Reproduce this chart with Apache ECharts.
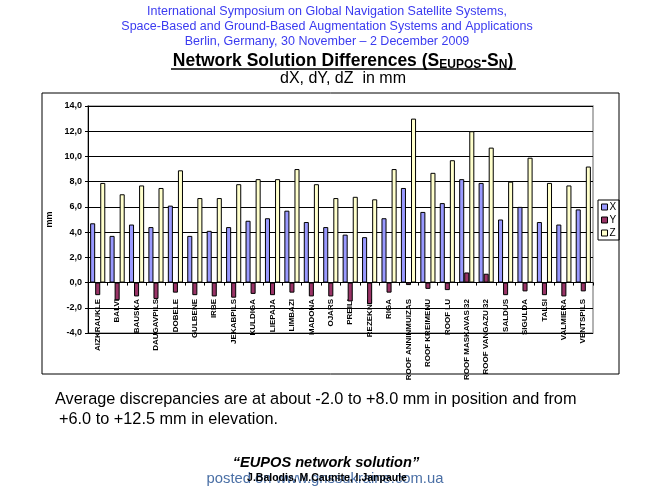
<!DOCTYPE html>
<html>
<head>
<meta charset="utf-8">
<script src="https://cdn.jsdelivr.net/npm/echarts@6/dist/echarts.min.js"></script>
<style>
  html, body { margin: 0; padding: 0; background: #fff; }
  #main { width: 650px; height: 488px; }
</style>
</head>
<body>
<div id="main"></div>
<script>
// stations (categories)
var stations = ['AIZKRAUKLE', 'BALVI', 'BAUSKA', 'DAUGAVPILS', 'DOBELE', 'GULBENE', 'IRBE',
  'JEKABPILS', 'KULDIGA', 'LIEPAJA', 'LIMBAZI', 'MADONA', 'OJARS', 'PREILI', 'REZEKNE', 'RIGA',
  'ROOF ANNINMUIZAS', 'ROOF KREIMENU', 'ROOF LU', 'ROOF MASKAVAS 32', 'ROOF VANGAZU 32',
  'SALDUS', 'SIGULDA', 'TALSI', 'VALMIERA', 'VENTSPILS'];

// differences in mm
var dX = [4.7, 3.7, 4.6, 4.4, 6.1, 3.7, 4.1, 4.4, 4.9, 5.1, 5.7, 4.8, 4.4, 3.8, 3.6, 5.1,
  7.5, 5.6, 6.3, 8.2, 7.9, 5.0, 6.0, 4.8, 4.6, 5.8];
var dY = [-1.0, -1.4, -1.1, -1.3, -0.8, -1.0, -1.1, -1.2, -0.9, -1.0, -0.8, -1.1, -1.1, -1.5, -1.7, -0.8,
  -0.2, -0.5, -0.6, 0.8, 0.7, -1.0, -0.7, -1.0, -1.1, -0.7];
var dZ = [7.9, 7.0, 7.7, 7.5, 8.9, 6.7, 6.7, 7.8, 8.2, 8.2, 9.0, 7.8, 6.7, 6.8, 6.6, 9.0,
  13.0, 8.7, 9.7, 12.0, 10.7, 8.0, 9.9, 7.9, 7.7, 9.2];

var yTicks = { min: -4, max: 14, step: 2 };

var chart = echarts.init(document.getElementById('main'));

var blue = '#3b3bf0';
var font = 'Arial, "Liberation Sans", sans-serif';

function bar(name, data, color) {
  return {
    name: name,
    type: 'bar',
    data: data,
    barGap: '0%',
    barCategoryGap: '22%',
    itemStyle: { color: color, borderColor: '#000', borderWidth: 1 },
    emphasis: { disabled: true }
  };
}

chart.setOption({
  animation: false,
  backgroundColor: '#fff',
  textStyle: { fontFamily: font },
  grid: {
    left: 88, top: 106, right: 57, bottom: 155,
    show: true, borderColor: '#999', borderWidth: 1.5, backgroundColor: '#fff'
  },
  legend: {
    orient: 'vertical',
    left: 598, top: 200,
    itemWidth: 6, itemHeight: 6, itemGap: 3,
    padding: [2, 3, 2, 3],
    borderColor: '#000', borderWidth: 1,
    icon: 'rect',
    itemStyle: { borderColor: '#000', borderWidth: 1 },
    textStyle: { fontSize: 10, color: '#000', padding: [0, 0, 0, -3] },
    data: ['X', 'Y', 'Z']
  },
  xAxis: {
    type: 'category',
    data: stations,
    axisLine: { onZero: true, lineStyle: { color: '#000', width: 1 } },
    axisTick: { show: true, alignWithLabel: false, length: 3, lineStyle: { color: '#000' } },
    axisLabel: {
      rotate: 90, interval: 0, margin: -34,
      fontSize: 8, fontWeight: 'bold', color: '#000'
    },
    splitLine: { show: false }
  },
  yAxis: {
    type: 'value',
    min: yTicks.min, max: yTicks.max, interval: yTicks.step,
    name: 'mm',
    nameLocation: 'middle',
    nameGap: 19,
    nameTextStyle: { fontSize: 9, fontWeight: 'bold', color: '#000' },
    axisLine: { show: true, lineStyle: { color: '#000' } },
    axisTick: { show: true, length: 3, lineStyle: { color: '#000' } },
    axisLabel: {
      fontSize: 9, fontWeight: 'bold', color: '#000', margin: 6,
      formatter: function (v) { return v.toFixed(1).replace('.', ','); }
    },
    splitLine: { lineStyle: { color: '#000', width: 1 } }
  },
  series: [
    bar('X', dX, '#9999ff'),
    bar('Y', dY, '#993366'),
    bar('Z', dZ, '#ffffcc')
  ],
  graphic: [
    // chart frame
    { type: 'rect', shape: { x: 42, y: 93, width: 577, height: 281 },
      style: { fill: null, stroke: '#000', lineWidth: 1 }, z: -1 },
    { type: 'text', x: 327, y: 12, style: { text: 'International Symposium on Global Navigation Satellite Systems,',
      font: '12.5px ' + font, fill: blue, align: 'center', verticalAlign: 'middle' } },
    { type: 'text', x: 327, y: 27, style: { text: 'Space-Based and Ground-Based Augmentation Systems and Applications',
      font: '12.5px ' + font, fill: blue, align: 'center', verticalAlign: 'middle' } },
    { type: 'text', x: 327, y: 42, style: { text: 'Berlin, Germany, 30 November \u2013 2 December 2009',
      font: '12.5px ' + font, fill: blue, align: 'center', verticalAlign: 'middle' } },
    { type: 'text', x: 343, y: 60, style: {
      text: '{a|Network Solution Differences (S}{b|EUPOS}{a|-S}{b|N}{a|)}',
      align: 'center', verticalAlign: 'middle',
      rich: {
        a: { fontSize: 17.5, fontWeight: 'bold', fontFamily: font, fill: '#000', lineHeight: 21, verticalAlign: 'bottom' },
        b: { fontSize: 12, fontWeight: 'bold', fontFamily: font, fill: '#000', lineHeight: 12, verticalAlign: 'bottom' }
      } } },
    { type: 'line', shape: { x1: 171, y1: 69, x2: 516, y2: 69 }, style: { stroke: '#000', lineWidth: 1.5 } },
    { type: 'text', x: 343, y: 79, style: { text: 'dX, dY, dZ  in mm',
      font: '16px ' + font, fill: '#000', align: 'center', verticalAlign: 'middle' } },
    { type: 'text', x: 55, y: 400, style: { text: 'Average discrepancies are at about -2.0 to +8.0 mm in position and from',
      font: '16.3px ' + font, fill: '#000', align: 'left', verticalAlign: 'middle' } },
    { type: 'text', x: 59, y: 420, style: { text: '+6.0 to +12.5 mm in elevation.',
      font: '16.3px ' + font, fill: '#000', align: 'left', verticalAlign: 'middle' } },
    { type: 'text', x: 326, y: 463, style: { text: '\u201cEUPOS network solution\u201d',
      font: 'italic bold 14.6px ' + font, fill: '#000', align: 'center', verticalAlign: 'middle' } },
    { type: 'text', x: 325, y: 479, style: { text: 'posted on www.gnssukraine.com.ua',
      font: '14.8px ' + font, fill: '#4a6fa5', align: 'center', verticalAlign: 'middle' } },
    { type: 'text', x: 327, y: 478, style: { text: 'J.Balodis, M.Caunite, I.Janpaule',
      font: 'bold 10.5px ' + font, fill: '#000', align: 'center', verticalAlign: 'middle' } }
  ]
});
</script>
</body>
</html>
